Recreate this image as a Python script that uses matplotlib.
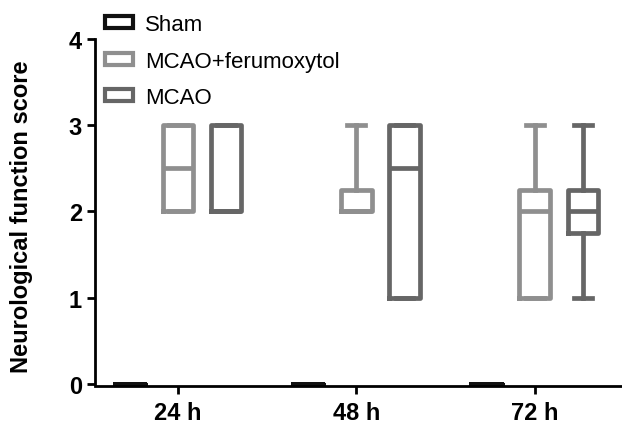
import matplotlib
matplotlib.use('Agg')
import matplotlib.pyplot as plt
from matplotlib.patches import Patch

plt.rcParams['font.family'] = ['Liberation Sans', 'DejaVu Sans']

# Time points and groups
times = ['24 h', '48 h', '72 h']
groups = ['Sham', 'MCAO+ferumoxytol', 'MCAO']
colors = ['#111111', '#8f8f8f', '#666666']

# box stats per group, per time: (whislo, q1, med, q3, whishi)
sham = [(0, 0, 0, 0, 0), (0, 0, 0, 0, 0), (0, 0, 0, 0, 0)]
ferumoxytol = [(2, 2, 2.5, 3, 3), (2, 2, 2, 2.25, 3), (1, 1, 2, 2.25, 3)]
mcao = [(2, 2, 2, 3, 3), (1, 1, 2.5, 3, 3), (1, 1.75, 2, 2.25, 3)]
all_stats = [sham, ferumoxytol, mcao]

offsets = [-0.27, 0, 0.27]

fig = plt.figure(figsize=(6.22, 4.31), dpi=100)
ax = fig.add_axes([0.153, 0.102, 0.847, 0.806])

for g in range(3):
    stats = []
    for t in range(3):
        lo, q1, med, q3, hi = all_stats[g][t]
        stats.append({'whislo': lo, 'q1': q1, 'med': med, 'q3': q3, 'whishi': hi})
    pos = [t + offsets[g] for t in range(3)]
    c = colors[g]
    ax.bxp(stats, positions=pos, widths=0.17, showfliers=False,
           boxprops=dict(color=c, linewidth=3.4),
           medianprops=dict(color=c, linewidth=3.4),
           whiskerprops=dict(color=c, linewidth=3.4),
           capprops=dict(color=c, linewidth=3.4),
           capwidths=0.1, manage_ticks=False)

ax.set_xlim(-0.465, 2.49)
ax.set_ylim(-0.025, 4)
ax.set_yticks([0, 1, 2, 3, 4])
ax.set_xticks([0, 1, 2])
ax.set_xticklabels(times)
for s in ['top', 'right']:
    ax.spines[s].set_visible(False)
for s in ['left', 'bottom']:
    ax.spines[s].set_linewidth(2)
ax.spines['left'].set_bounds(0, 4)
ax.tick_params(width=2, length=6, labelsize=17)
ax.tick_params(axis='x', pad=5)
for lab in ax.get_xticklabels() + ax.get_yticklabels():
    lab.set_fontweight('bold')
ax.set_ylabel('Neurological function score', fontsize=17, fontweight='bold')
ax.yaxis.set_label_coords(-0.118, 0.49)

handles = [Patch(facecolor='white', edgecolor=c, linewidth=3, label=l) for c, l in zip(colors, groups)]
fig.legend(handles=handles, loc='upper left', bbox_to_anchor=(0.169, 0.965), frameon=False,
           fontsize=16, labelspacing=0.7, handlelength=1.25, handleheight=0.45,
           handletextpad=0.55, borderpad=0, borderaxespad=0)

fig.savefig('out.png', dpi=100)
